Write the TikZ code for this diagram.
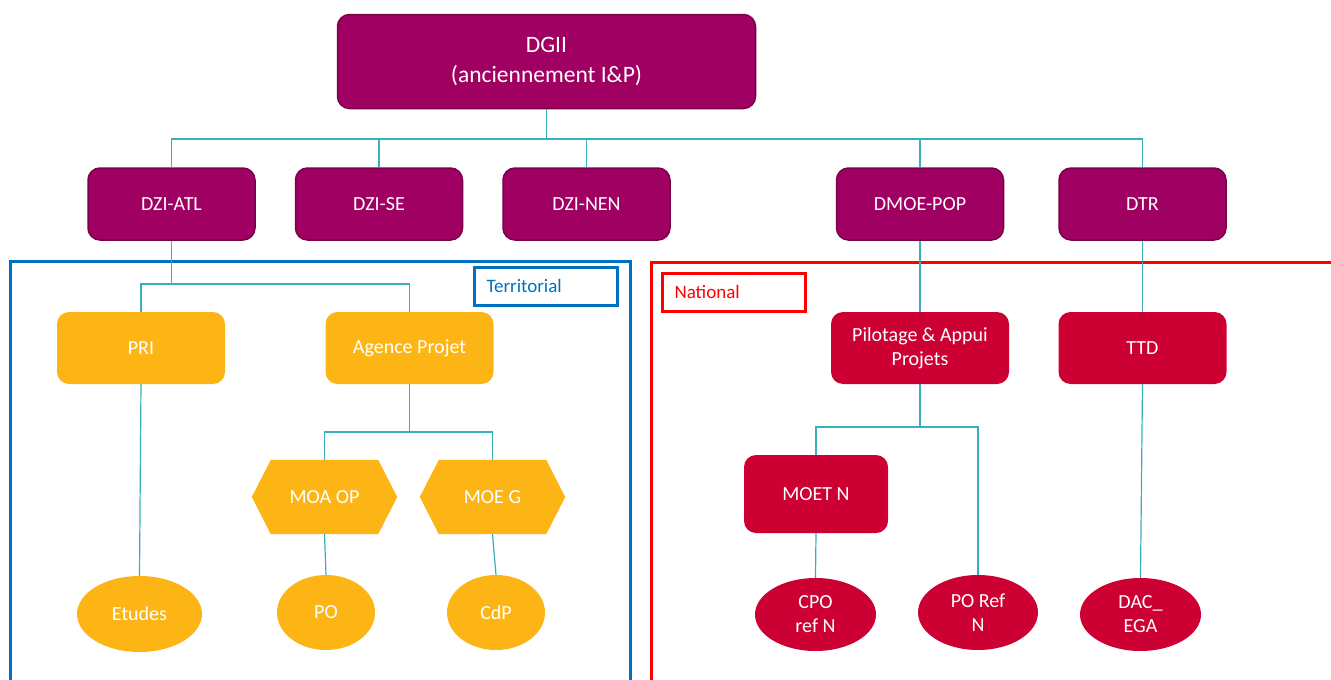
\documentclass[tikz,border=0pt]{standalone}
\usepackage{fontspec}
\setmainfont{Carlito}
\usetikzlibrary{shapes.geometric,backgrounds}
\definecolor{dgp}{HTML}{A10063}
\definecolor{dgpb}{HTML}{7A004A}
\definecolor{org}{HTML}{FDB515}
\definecolor{crim}{HTML}{CC0033}
\definecolor{tblue}{HTML}{0070C0}
\definecolor{nred}{HTML}{FF0000}
\definecolor{teal}{HTML}{3AAFBC}
\tikzset{
  base/.style={text=white, font=\fontsize{20}{24}\selectfont, inner sep=0pt, align=center},
  dbox/.style={base, rectangle, rounded corners=12pt, fill=dgp, draw=dgpb, line width=1.5pt, minimum width=167pt, minimum height=72pt},
  obox/.style={base, rectangle, rounded corners=12pt, fill=org, minimum width=168pt, minimum height=72pt},
  rbox/.style={base, rectangle, rounded corners=12pt, fill=crim, minimum width=168pt, minimum height=72pt},
  hexbox/.style={base, rectangle, minimum width=145pt, minimum height=74pt},
  oell/.style={base, ellipse, fill=org},
  rell/.style={base, ellipse, fill=crim},
  conn/.style={draw=teal, line width=1.2pt},
  tag/.style={rectangle, line width=3pt, font=\fontsize{19}{22}\selectfont, minimum height=38pt, inner xsep=12pt, text width=119pt, align=left}
}
\begin{document}
\begin{tikzpicture}[x=1pt,y=-1pt]
\useasboundingbox (0,0) rectangle (1331,680);
% frames
\draw[tblue, line width=3pt] (10,684) -- (10,261) -- (630,261) -- (630,684);
\draw[nred, line width=3pt] (651,684) -- (651,262) -- (1335,262);
\node[tag, draw=tblue, text=tblue] (terr) at (546,286) {Territorial};
\node[tag, draw=nred, text=nred] (nat) at (734,292) {National};
% top
\node[dbox, minimum width=418pt, minimum height=94pt, font=\fontsize{23.5}{30}\selectfont] (dgii) at (546.5,61.5) {DGII\\(anciennement I\&P)};
\node[dbox] (atl) at (171.5,204) {DZI-ATL};
\node[dbox] (se) at (379,204) {DZI-SE};
\node[dbox] (nen) at (586.5,204) {DZI-NEN};
\node[dbox] (dmoe) at (920,204) {DMOE-POP};
\node[dbox] (dtr) at (1142.5,204) {DTR};
% territorial
\node[obox] (pri) at (141,348) {PRI};
\node[obox] (agence) at (409.5,348) {Agence Projet};
\node[hexbox] (moa) at (324.5,497) {MOA OP};
\node[hexbox] (moe) at (492.5,497) {MOE G};
\begin{scope}[on background layer]
\foreach \h in {moa,moe}{
\fill[org] ([xshift=19pt]\h.north west) -- ([xshift=-19pt]\h.north east) -- (\h.east) -- ([xshift=-19pt]\h.south east) -- ([xshift=19pt]\h.south west) -- (\h.west) -- cycle;}
\end{scope}
\node[oell, minimum width=125pt, minimum height=76pt] (etudes) at (139.5,614) {Etudes};
\node[oell, minimum width=98pt, minimum height=75pt] (po) at (326,612.5) {PO};
\node[oell, minimum width=98pt, minimum height=75pt] (cdp) at (496,612.5) {CdP};
% national
\node[rbox, minimum width=178pt] (pil) at (920,348) {Pilotage \& Appui\\Projets};
\node[rbox] (ttd) at (1142.5,348) {TTD};
\node[rbox, minimum width=144pt, minimum height=78pt] (moet) at (816,494) {MOET N};
\node[rell, minimum width=121pt, minimum height=73pt] (cpo) at (815.5,614.5) {CPO\\ref N};
\node[rell, minimum width=120pt, minimum height=75pt] (poref) at (978,612.5) {PO Ref\\N};
\node[rell, minimum width=121pt, minimum height=73pt] (dac) at (1140.5,614.5) {DAC\_\\EGA};
% connectors
\coordinate (bus) at (546.5,139);
\draw[conn] (dgii.south) -- (bus);
\foreach \n in {atl,se,nen,dmoe,dtr}{\draw[conn] (bus) -| (\n.north);}
\coordinate (b1) at (171.5,284);
\draw[conn] (atl.south) -- (b1);
\draw[conn] (b1) -| (pri.north);
\draw[conn] (b1) -| (agence.north);
\draw[conn] (pri.south) -- (etudes.north);
\coordinate (b2) at (409.5,432);
\draw[conn] (agence.south) -- (b2);
\draw[conn] (b2) -| (moa.north);
\draw[conn] (b2) -| (moe.north);
\draw[conn] (moa.south) -- (po.north);
\draw[conn] (moe.south) -- (cdp.north);
\draw[conn] (dmoe.south) -- (pil.north);
\draw[conn] (dtr.south) -- (ttd.north);
\coordinate (b3) at (920,427);
\draw[conn] (pil.south) -- (b3);
\draw[conn] (b3) -| (moet.north);
\draw[conn] (b3) -| (poref.north);
\draw[conn] (moet.south) -- (cpo.north);
\draw[conn] (ttd.south) -- (dac.north);
\end{tikzpicture}
\end{document}
